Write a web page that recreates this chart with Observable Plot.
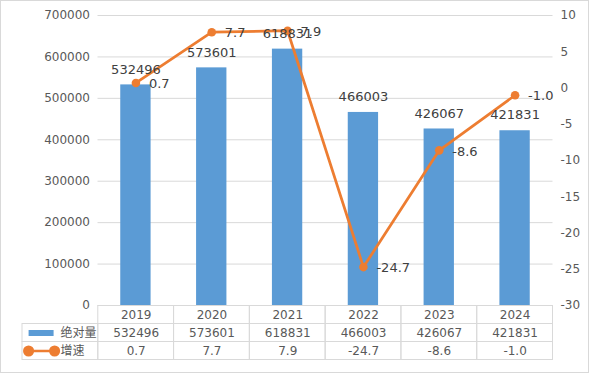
<!DOCTYPE html>
<html><head><meta charset="utf-8">
<script src="https://cdn.jsdelivr.net/npm/d3@7"></script>
<script src="https://cdn.jsdelivr.net/npm/@observablehq/plot@0.6"></script>
<style>
body{margin:0;background:#fff;}
#wrap{position:relative;width:590px;height:376px;font-family:"DejaVu Sans","Noto Sans CJK SC",sans-serif;}
#border{position:absolute;left:0;top:0;width:589px;height:373px;border:1px solid #D9D9D9;box-sizing:border-box;}
#chart,#table{position:absolute;left:0;}
#chart{top:0;} #table{top:304px;}
</style></head><body>
<div id="wrap"><div id="border"></div><div id="chart"></div><div id="table"></div></div>
<script>
// ---- data ----
const years = ["2019","2020","2021","2022","2023","2024"];
const absValues = [532496, 573601, 618831, 466003, 426067, 421831];
const growthRates = [0.7, 7.7, 7.9, -24.7, -8.6, -1.0];
const leftTicks = [0, 100000, 200000, 300000, 400000, 500000, 600000, 700000];
const rightTicks = [-30, -25, -20, -15, -10, -5, 0, 5, 10];
const seriesNames = ["绝对量", "增速"];

const BLUE = "#5B9BD5", ORANGE = "#ED7D31", LABEL = "#404040", GRID = "#D9D9D9";
const FONT = '"DejaVu Sans","Noto Sans CJK SC",sans-serif';

const leftMax = 700000, rMin = -30, rMax = 10;
const toLeft = r => (r - rMin) / (rMax - rMin) * leftMax;
const fromLeft = v => Math.round(v / leftMax * (rMax - rMin) + rMin);

const data = years.map((y, i) => ({year: y, abs: absValues[i], rate: growthRates[i]}));

const chart = Plot.plot({
  width: 590, height: 376,
  marginTop: 15, marginBottom: 71, marginLeft: 97.5, marginRight: 37.5,
  style: {fontFamily: FONT, fontSize: "12px", color: "#595959", background: "transparent"},
  x: {type: "band", domain: years, paddingInner: 0.6, paddingOuter: 0.3, round: false, axis: null},
  y: {domain: [0, leftMax], label: null},
  marks: [
    Plot.gridY(leftTicks, {stroke: GRID, strokeOpacity: 1}),
    Plot.axisY(leftTicks, {anchor: "left", tickSize: 0, tickPadding: 8, tickFormat: d => String(d), label: null, fontSize: 12}),
    Plot.axisY(rightTicks.map(toLeft), {anchor: "right", tickSize: 0, tickPadding: 7.5, tickFormat: d => String(fromLeft(d)), label: null, fontSize: 12}),
    Plot.barY(data, {x: "year", y: "abs", fill: BLUE}),
    Plot.line(data, {x: "year", y: d => toLeft(d.rate), stroke: ORANGE, strokeWidth: 2.75, strokeLinejoin: "round"}),
    Plot.dot(data, {x: "year", y: d => toLeft(d.rate), r: 4.3, fill: ORANGE}),
    Plot.text(data, {x: "year", y: "abs", text: d => String(d.abs), dy: -15.5, fontSize: 13, fill: LABEL}),
    Plot.text(data, {x: "year", y: d => toLeft(d.rate), text: d => d.rate.toFixed(1), dx: 13, dy: 1, textAnchor: "start", fontSize: 13, fill: LABEL})
  ]
});
document.getElementById("chart").append(chart);

// ---- data table below the chart ----
const cols = ["", ...years];
const rows = ["year", "abs", "rate"];
const cells = [
  ...years.map(y => ({col: y, row: "year", label: y})),
  {col: "", row: "abs", label: ""},
  ...data.map(d => ({col: d.year, row: "abs", label: String(d.abs)})),
  {col: "", row: "rate", label: ""},
  ...data.map(d => ({col: d.year, row: "rate", label: d.rate.toFixed(1)}))
];
const legendItems = [
  {col: "", row: "abs", name: seriesNames[0], kind: "bar"},
  {col: "", row: "rate", name: seriesNames[1], kind: "line"}
];
const barSwatch = {draw(ctx) { ctx.rect(-12.5, -3, 25, 6); }};
const lineSwatch = {draw(ctx) {
  ctx.moveTo(-13, 0); ctx.lineTo(13, 0);
  ctx.moveTo(-13 + 4.3, 0); ctx.arc(-13, 0, 4.3, 0, 2 * Math.PI);
  ctx.moveTo(13 + 4.3, 0); ctx.arc(13, 0, 4.3, 0, 2 * Math.PI);
}};

const table = Plot.plot({
  width: 590, height: 58,
  marginTop: 0, marginBottom: 0, marginLeft: 0, marginRight: 0,
  style: {fontFamily: FONT, fontSize: "12px", color: "#595959", background: "transparent"},
  x: {type: "band", domain: cols, range: [22, 552.5], padding: 0, round: false, axis: null},
  y: {type: "band", domain: rows, range: [1.5, 55.5], padding: 0, round: false, axis: null},
  marks: [
    Plot.cell(cells, {x: "col", y: "row", fill: "none", stroke: GRID}),
    Plot.text(cells, {x: "col", y: "row", text: "label", fontSize: 12, fill: "#595959"}),
    Plot.dot(legendItems.filter(d => d.kind === "bar"), {x: "col", y: "row", symbol: barSwatch, fill: BLUE, dx: -19.3}),
    Plot.dot(legendItems.filter(d => d.kind === "line"), {x: "col", y: "row", symbol: lineSwatch, fill: ORANGE, stroke: ORANGE, strokeWidth: 2.5, dx: -18.8}),
    Plot.text(legendItems, {x: "col", y: "row", text: "name", textAnchor: "start", dx: 0, fontSize: 12, fill: "#595959"})
  ]
});
document.getElementById("table").append(table);
</script>
</body></html>
